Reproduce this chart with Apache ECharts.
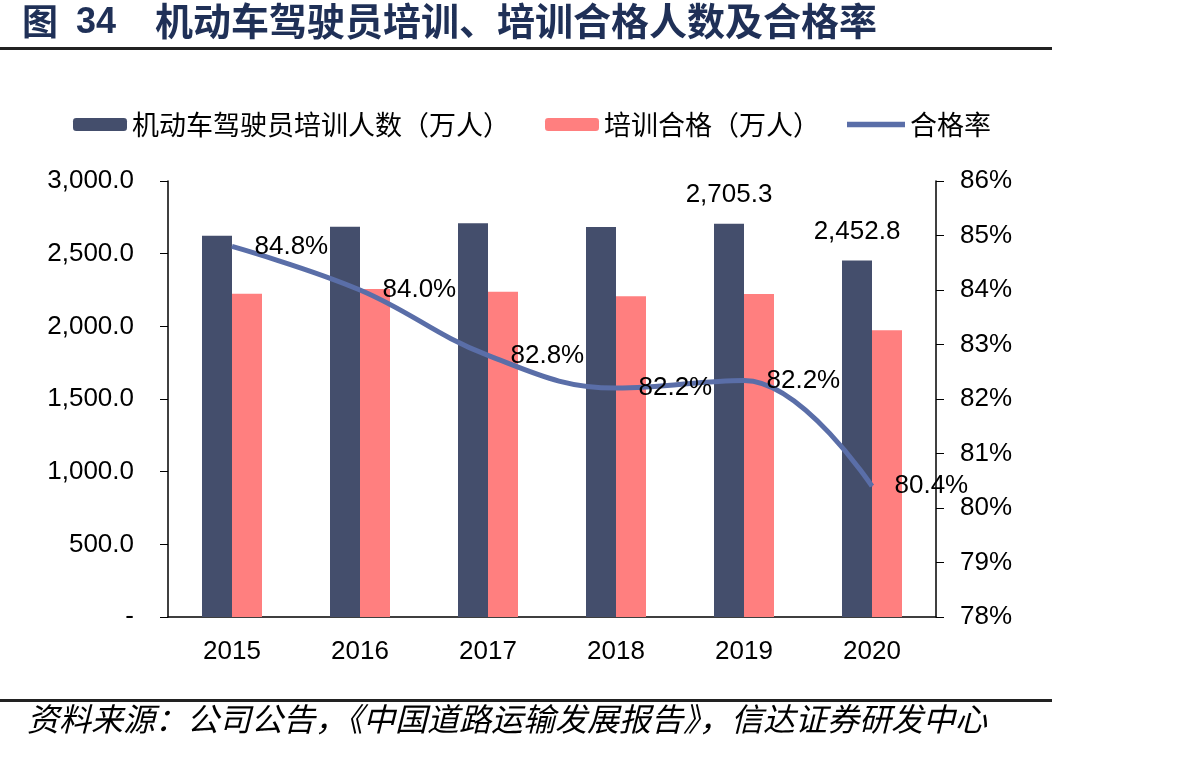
<!DOCTYPE html>
<html>
<head>
<meta charset="utf-8">
<script src="https://cdn.jsdelivr.net/npm/echarts@6/dist/echarts.min.js"></script>
<style>
html, body { margin: 0; padding: 0; background: #fff; }
#chart { width: 1204px; height: 757px; }
</style>
</head>
<body>
<div id="chart"></div>
<script>
var years = ['2015', '2016', '2017', '2018', '2019', '2020'];
var trainees = [2623, 2686, 2709, 2683, 2705.3, 2452.8];
var qualified = [2225, 2257, 2238, 2207, 2222, 1973];
var passRate = [84.8, 84.0, 82.8, 82.2, 82.34, 80.4];
var passRateLabels = ['84.8%', '84.0%', '82.8%', '82.2%', '82.2%', '80.4%'];
var traineeLabels = ['', '', '', '', '2,705.3', '2,452.8'];

var myChart = echarts.init(document.getElementById('chart'));
var font = 'Liberation Sans, Arial, sans-serif';
var cjk = '"Noto Sans CJK SC", sans-serif';
var titleColor = '#1f3057';
var lineIcon = 'path://M0,0L54,0L54,5L0,5Z';

var option = {
    animation: false,
    backgroundColor: '#fff',
    graphic: [
        { type: 'text', left: 22, top: 3, style: { text: '图', fontFamily: cjk, fontSize: 36, fontWeight: 'bold', fill: titleColor } },
        { type: 'text', left: 76, top: 5, style: { text: '34', fontFamily: font, fontSize: 36, fontWeight: 'bold', fill: titleColor } },
        { type: 'text', left: 155, top: 2, style: { text: '机动车驾驶员培训、培训合格人数及合格率', fontFamily: cjk, fontSize: 38, fontWeight: 'bold', fill: titleColor } },
        { type: 'rect', shape: { x: 0, y: 47, width: 1052, height: 3 }, style: { fill: '#222' } },
        { type: 'rect', shape: { x: 0, y: 699, width: 1052, height: 3 }, style: { fill: '#222' } },
        {
            type: 'text', left: 27, top: 703,
            style: { text: '资料来源：公司公告，《中国道路运输发展报告》，信达证券研发中心', fontFamily: cjk, fontSize: 32, fontStyle: 'italic', fill: '#000' }
        }
    ],
    legend: [
        {
            left: 68, top: 106, itemWidth: 54, itemHeight: 13, itemGap: 6,
            textStyle: { fontFamily: cjk, fontSize: 27, color: '#000' },
            data: ['机动车驾驶员培训人数（万人）']
        },
        {
            left: 540, top: 106, itemWidth: 54, itemHeight: 13,
            textStyle: { fontFamily: cjk, fontSize: 27, color: '#000' },
            data: ['培训合格（万人）']
        },
        {
            left: 842, top: 106, itemWidth: 58, itemHeight: 13,
            textStyle: { fontFamily: cjk, fontSize: 27, color: '#000' },
            data: [{ name: '合格率', icon: lineIcon }]
        }
    ],
    grid: { left: 168, right: 268, top: 181, bottom: 140 },
    xAxis: {
        type: 'category',
        data: years,
        axisLine: { lineStyle: { color: '#000', width: 1.5 } },
        axisTick: { length: 8, lineStyle: { color: '#000' } },
        axisLabel: { fontFamily: font, fontSize: 26, color: '#000', margin: 22 }
    },
    yAxis: [
        {
            type: 'value', min: 0, max: 3000, interval: 500,
            splitLine: { show: false },
            axisLine: { show: true, lineStyle: { color: '#000', width: 1.5 } },
            axisTick: { show: true, length: 8, lineStyle: { color: '#000' } },
            axisLabel: {
                fontFamily: font, fontSize: 26, color: '#000', margin: 34,
                formatter: function (v) {
                    if (v === 0) return '-';
                    return v.toLocaleString('en-US', { minimumFractionDigits: 1, maximumFractionDigits: 1 });
                }
            }
        },
        {
            type: 'value', min: 78, max: 86, interval: 1,
            splitLine: { show: false },
            axisLine: { show: true, lineStyle: { color: '#000', width: 1.5 } },
            axisTick: { show: true, length: 8, lineStyle: { color: '#000' } },
            axisLabel: { fontFamily: font, fontSize: 26, color: '#000', margin: 24, formatter: '{value}%' }
        }
    ],
    series: [
        {
            name: '机动车驾驶员培训人数（万人）',
            type: 'bar',
            data: trainees,
            barWidth: 30,
            barGap: '0%',
            itemStyle: { color: '#444e6c' },
            label: {
                show: true, position: 'top', distance: 16,
                fontFamily: font, fontSize: 26, color: '#000',
                formatter: function (p) { return traineeLabels[p.dataIndex]; }
            }
        },
        {
            name: '培训合格（万人）',
            type: 'bar',
            data: qualified,
            barWidth: 30,
            itemStyle: { color: '#ff7f7f' }
        },
        {
            name: '合格率',
            type: 'line',
            yAxisIndex: 1,
            data: passRate,
            smooth: 0.4,
            symbol: 'circle',
            symbolSize: 1,
            showSymbol: true,
            lineStyle: { color: '#5a6ea8', width: 5 },
            itemStyle: { color: '#5a6ea8' },
            label: {
                show: true, position: 'right', distance: 22,
                fontFamily: font, fontSize: 26, color: '#000',
                formatter: function (p) { return passRateLabels[p.dataIndex]; }
            },
            z: 5
        }
    ]
};
myChart.setOption(option);
</script>
</body>
</html>
